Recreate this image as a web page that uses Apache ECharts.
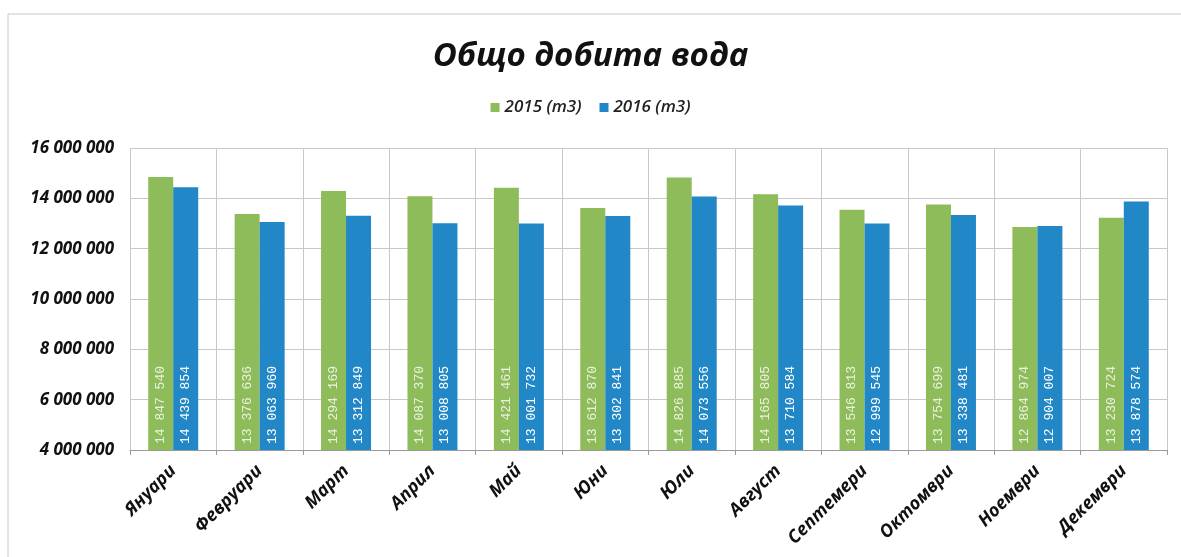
<!DOCTYPE html>
<html><head><meta charset="utf-8">
<script src="https://cdn.jsdelivr.net/npm/echarts@6/dist/echarts.min.js"></script>
<style>html,body{margin:0;padding:0;background:#fff}#c{width:1181px;height:557px}</style>
</head><body><div id="c"></div>
<script>
const categories = ['Януари','Февруари','Март','Април','Май','Юни','Юли','Август','Септемери','Октомври','Ноември','Декември'];
const series2015 = [14847540,13376636,14294169,14087370,14421461,13612870,14826885,14165805,13546813,13754699,12864974,13230724];
const series2016 = [14439854,13063960,13312849,13008805,13001732,13302841,14073556,13710584,12999545,13338481,12904007,13878574];
const seriesNames = ['2015 (m3)','2016 (m3)'];

function fmt(v){return String(v).replace(/\B(?=(\d{3})+(?!\d))/g,' ');}

const chart = echarts.init(document.getElementById('c'));
const FONT = 'Open Sans';
const labelBase = {show:true,position:'insideBottom',rotate:90,align:'left',verticalAlign:'middle',distance:6,
  fontFamily:'Liberation Mono',fontSize:13,formatter:p=>fmt(p.value)};
chart.setOption({
  animation:false,
  backgroundColor:'#fff',
  graphic:[{type:'rect',shape:{x:8,y:14,width:1190,height:560},style:{fill:'none',stroke:'#c8c8c8',lineWidth:1}}],
  title:{text:'Общо добита вода',left:'center',top:35,textStyle:{fontFamily:FONT,fontStyle:'italic',fontWeight:'bold',fontSize:33,color:'#111'}},
  legend:{top:94,left:'center',itemWidth:9,itemHeight:9,itemGap:18,icon:'rect',
    textStyle:{fontFamily:FONT,fontStyle:'italic',fontWeight:600,fontSize:17,color:'#222'},data:seriesNames},
  grid:{left:130,right:14,top:148,bottom:107,containLabel:false},
  xAxis:{type:'category',data:categories,
    axisLine:{lineStyle:{color:'#999'}},axisTick:{show:true,length:5,lineStyle:{color:'#999'}},
    splitLine:{show:true,lineStyle:{color:'#c8c8c8'}},
    axisLabel:{rotate:45,interval:0,margin:18,fontFamily:FONT,fontStyle:'italic',fontWeight:'bold',fontSize:18,color:'#111'}},
  yAxis:{type:'value',min:4000000,max:16000000,interval:2000000,
    axisLine:{show:false},axisTick:{show:false},
    splitLine:{lineStyle:{color:'#c8c8c8'}},
    axisLabel:{margin:16,fontFamily:FONT,fontStyle:'italic',fontWeight:'bold',fontSize:17,color:'#111',formatter:v=>fmt(v)}},
  series:[
    {name:seriesNames[0],type:'bar',data:series2015,barWidth:25,barGap:'0%',itemStyle:{color:'#8fbc5a'},
      label:Object.assign({},labelBase,{color:'rgba(255,255,255,0.8)'})},
    {name:seriesNames[1],type:'bar',data:series2016,barWidth:25,itemStyle:{color:'#2187c6'},
      label:Object.assign({},labelBase,{color:'#ffffff'})}
  ]
});
</script></body></html>
